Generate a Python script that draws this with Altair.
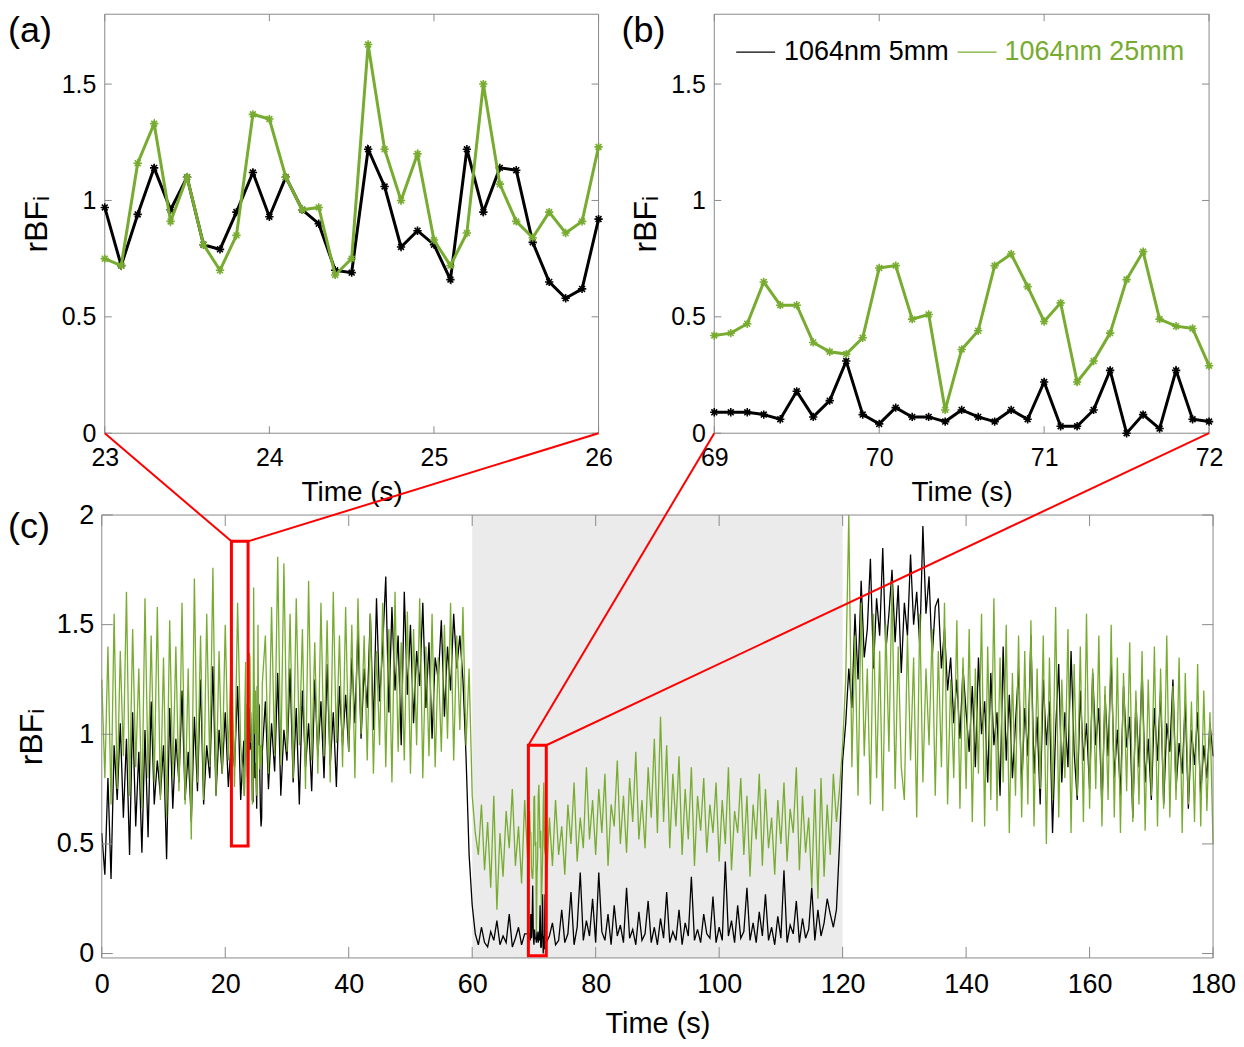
import altair as alt
import pandas as pd

# ------------------------------------------------------------------ data
series_names = ["1064nm 5mm", "1064nm 25mm"]
series_colors = ["#000000", "#77ac30"]

# panel (a): 23-26 s, 0.1 s sampling
a_start, a_end = 23.0, 26.0
a_black = [0.97, 0.72, 0.94, 1.14, 0.96, 1.10, 0.81, 0.79, 0.95, 1.12, 0.93,
           1.10, 0.96, 0.90, 0.70, 0.69, 1.22, 1.06, 0.80, 0.87, 0.81,
           0.66, 1.22, 0.95, 1.14, 1.13, 0.82, 0.65, 0.58, 0.62, 0.92]
a_green = [0.75, 0.72, 1.16, 1.33, 0.91, 1.10, 0.81, 0.70, 0.85, 1.37, 1.35,
           1.10, 0.96, 0.97, 0.68, 0.75, 1.67, 1.22, 1.00, 1.20, 0.83,
           0.72, 0.86, 1.50, 1.07, 0.91, 0.84, 0.95, 0.86, 0.91, 1.23]

# panel (b): 69-72 s, 0.1 s sampling
b_start, b_end = 69.0, 72.0
b_black = [0.09, 0.09, 0.09, 0.08, 0.06, 0.18, 0.07, 0.14, 0.31, 0.08, 0.04,
           0.11, 0.07, 0.07, 0.05, 0.10, 0.07, 0.05, 0.10, 0.06, 0.22,
           0.03, 0.03, 0.10, 0.27, 0.00, 0.08, 0.02, 0.27, 0.06, 0.05]
b_green = [0.42, 0.43, 0.47, 0.65, 0.55, 0.55, 0.39, 0.35, 0.34, 0.41, 0.71,
           0.72, 0.49, 0.51, 0.10, 0.36, 0.44, 0.72, 0.77, 0.63, 0.48,
           0.56, 0.22, 0.31, 0.43, 0.66, 0.78, 0.49, 0.46, 0.45, 0.29]

# panel (c): 0-180 s, read every 0.5 s
c_step = 0.5
c_black = [
    0.55, 0.36, 0.80, 0.34, 0.95, 0.70, 1.05, 0.62, 0.98, 0.45, 1.10, 0.58, 0.92, 0.46, 1.02, 0.53, 1.15, 0.68, 0.88, 0.72,
    0.95, 0.43, 1.12, 0.66, 0.98, 0.78, 1.20, 0.70, 0.92, 0.60, 1.08, 0.74, 1.25, 0.68, 0.95, 0.80, 1.31, 0.72, 1.02, 0.82,
    1.10, 0.76, 0.98, 0.85, 1.22, 0.70, 0.97, 1.10, 0.94, 0.69, 0.81, 1.13, 0.92, 1.15, 0.75, 1.05, 0.83, 1.28, 0.72, 1.02,
    0.88, 1.30, 0.78, 1.12, 0.68, 1.20, 0.85, 1.05, 0.74, 1.25, 0.90, 1.15, 0.80, 1.32, 0.86, 1.10, 0.76, 1.22, 0.95, 1.18,
    0.92, 1.35, 1.05, 1.48, 0.98, 1.30, 1.12, 1.55, 1.02, 1.62, 1.15, 1.40, 1.72, 1.10, 1.58, 1.20, 1.45, 0.95, 1.65, 1.18,
    1.50, 1.05, 1.38, 1.22, 1.60, 1.12, 1.42, 0.98, 1.35, 1.25, 1.52, 1.08, 1.40, 1.20, 1.55, 1.30, 1.45, 1.25, 0.90, 0.45,
    0.22, 0.09, 0.04, 0.12, 0.05, 0.03, 0.10, 0.06, 0.15, 0.04, 0.08, 0.05, 0.18, 0.03, 0.07, 0.12, 0.04, 0.09, 0.22, 0.06,
    0.04, 0.10, 0.22, 0.00, 0.05, 0.08, 0.14, 0.04, 0.06, 0.20, 0.05, 0.09, 0.28, 0.04, 0.12, 0.37, 0.06, 0.15, 0.08, 0.25,
    0.05, 0.37, 0.10, 0.06, 0.18, 0.04, 0.22, 0.08, 0.13, 0.05, 0.30, 0.07, 0.11, 0.04, 0.19, 0.06, 0.09, 0.24, 0.05, 0.12,
    0.04, 0.16, 0.07, 0.28, 0.05, 0.10, 0.06, 0.20, 0.04, 0.14, 0.08, 0.35, 0.06, 0.11, 0.05, 0.18, 0.09, 0.07, 0.26, 0.05,
    0.12, 0.06, 0.42, 0.08, 0.15, 0.05, 0.22, 0.07, 0.10, 0.30, 0.06, 0.14, 0.05, 0.19, 0.08, 0.27, 0.06, 0.12, 0.04, 0.17,
    0.07, 0.38, 0.05, 0.13, 0.09, 0.24, 0.05, 0.16, 0.07, 0.11, 0.30, 0.06, 0.20, 0.08, 0.14, 0.25, 0.18, 0.12, 0.20, 0.50,
    0.88, 1.05, 1.30, 1.12, 1.55, 1.25, 1.70, 1.35, 1.48, 1.80, 1.30, 1.62, 1.45, 1.85, 1.38, 1.55, 1.75, 1.42, 1.68, 1.28,
    1.60, 1.45, 1.82, 1.50, 1.65, 1.40, 1.95, 1.55, 1.72, 1.35, 1.58, 1.62, 1.30, 1.48, 1.20, 1.35, 1.05, 1.25, 0.98, 1.30,
    1.10, 0.92, 1.22, 0.85, 1.35, 1.00, 1.15, 0.78, 1.28, 0.95, 1.10, 0.72, 1.40, 0.88, 1.18, 0.80, 1.05, 1.30, 0.75, 1.12,
    0.90, 1.45, 0.82, 1.08, 0.68, 1.25, 0.95, 1.15, 0.55, 1.02, 1.32, 0.78, 1.10, 0.85, 1.38, 0.92, 0.70, 1.20, 0.88, 1.05,
    0.75, 1.28, 0.95, 1.12, 0.66, 1.18, 0.90, 1.35, 0.80, 1.02, 0.72, 1.22, 0.94, 1.08, 0.62, 1.15, 0.85, 1.30, 0.78, 0.98,
    0.70, 1.12, 0.88, 1.20, 0.68, 1.05, 0.92, 1.25, 0.75, 0.96, 0.82, 1.15, 0.66, 1.02, 0.86, 1.10, 0.72, 0.95, 0.80, 1.05,
    0.90]
c_green = [
    1.25, 0.80, 1.40, 0.68, 1.55, 0.75, 1.38, 0.90, 1.65, 0.72, 1.48, 0.85, 1.30, 0.66, 1.62, 0.80, 1.45, 0.78, 1.58, 0.70,
    1.35, 0.62, 1.52, 0.80, 1.40, 0.74, 1.60, 0.68, 1.30, 0.52, 1.71, 0.78, 1.45, 0.70, 1.55, 0.85, 1.76, 0.72, 1.38, 0.82,
    1.50, 0.88, 1.42, 0.76, 1.60, 0.95, 0.75, 1.10, 1.34, 0.75, 0.83, 0.93, 1.23, 1.45, 0.82, 1.58, 0.90, 1.81, 0.86, 1.78,
    0.92, 1.55, 0.80, 1.62, 0.95, 1.48, 0.75, 1.70, 0.88, 1.42, 0.82, 1.60, 0.90, 1.52, 0.78, 1.65, 0.96, 1.45, 0.85, 1.58,
    0.92, 1.50, 0.80, 1.62, 1.00, 1.45, 0.88, 1.55, 0.82, 1.38, 0.95, 1.60, 0.85, 1.48, 0.78, 1.65, 0.92, 1.42, 0.88, 1.56,
    0.82, 1.48, 0.95, 1.62, 0.80, 1.40, 0.90, 1.55, 0.85, 1.35, 0.92, 1.50, 0.98, 1.60, 0.88, 1.45, 1.02, 1.58, 0.95, 1.30,
    0.72, 0.55, 0.45, 0.68, 0.38, 0.60, 0.30, 0.72, 0.20, 0.55, 0.35, 0.65, 0.48, 0.75, 0.40, 0.58, 0.32, 0.70, 0.45, 0.62,
    0.72, 0.36, 0.48, 0.66, 0.29, 0.62, 0.40, 0.70, 0.45, 0.58, 0.36, 0.68, 0.50, 0.78, 0.42, 0.62, 0.48, 0.85, 0.52, 0.70,
    0.45, 0.75, 0.55, 0.82, 0.40, 0.68, 0.58, 0.88, 0.50, 0.72, 0.46, 0.80, 0.60, 0.92, 0.52, 0.70, 0.48, 0.85, 0.62, 0.98,
    0.55, 1.08, 0.60, 0.95, 0.48, 0.82, 0.58, 0.90, 0.45, 0.75, 0.52, 0.85, 0.40, 0.72, 0.56, 0.80, 0.46, 0.68, 0.55, 0.78,
    0.42, 0.70, 0.50, 0.85, 0.38, 0.65, 0.55, 0.80, 0.45, 0.72, 0.35, 0.68, 0.52, 0.82, 0.40, 0.75, 0.48, 0.62, 0.36, 0.70,
    0.50, 0.78, 0.42, 0.66, 0.55, 0.85, 0.38, 0.72, 0.46, 0.62, 0.30, 0.75, 0.25, 0.80, 0.35, 0.68, 0.45, 0.82, 0.60, 0.75,
    0.95, 1.25, 2.00, 0.85, 1.45, 0.72, 1.60, 0.90, 1.30, 0.68, 1.55, 0.80, 1.38, 0.65, 1.50, 0.92, 1.70, 0.75, 1.40, 0.85,
    0.70, 1.45, 0.88, 1.35, 0.62, 1.55, 0.78, 1.30, 0.95, 1.48, 0.72, 1.38, 0.85, 1.60, 0.68, 1.25, 0.80, 1.52, 0.66, 1.35,
    0.75, 1.48, 0.60, 1.30, 0.82, 1.55, 0.58, 1.40, 0.70, 1.62, 0.65, 1.35, 0.78, 1.50, 0.55, 1.28, 0.72, 1.45, 0.62, 1.38,
    0.68, 1.52, 0.58, 1.30, 0.75, 1.45, 0.50, 1.35, 0.70, 1.58, 0.62, 1.25, 0.80, 1.48, 0.55, 1.32, 0.72, 1.40, 0.60, 1.55,
    0.66, 1.30, 0.75, 1.45, 0.58, 1.22, 0.70, 1.50, 0.62, 1.35, 0.55, 1.28, 0.74, 1.42, 0.60, 1.20, 0.68, 1.38, 0.56, 1.25,
    0.72, 1.40, 0.58, 1.30, 0.66, 1.45, 0.62, 1.22, 0.70, 1.35, 0.55, 1.28, 0.68, 1.15, 0.60, 1.32, 0.58, 1.20, 0.65, 1.10,
    0.50]

shade_window = [60, 120]          # grey interval in (c)
box_t0 = [21.0, 69.1]             # red zoom boxes in (c)
box_t1 = [23.7, 72.0]
box_lo = [0.49, -0.01]
box_hi = [1.88, 0.95]

a_xticks = [23, 24, 25, 26]
b_xticks = [69, 70, 71, 72]
top_yticks = [0, 0.5, 1, 1.5]
c_xticks = [0, 20, 40, 60, 80, 100, 120, 140, 160, 180]
c_yticks = [0, 0.5, 1, 1.5, 2]
panel_labels = ["(a)", "(b)", "(c)"]

# ------------------------------------------------------------------ style / layout
FONT = "Liberation Sans"
GRAY = "#8a8a8a"
RED = "#ff0000"
SHADE = "#ebebeb"
A_X0, A_X1 = 3, 498          # pixel ranges of (a) and (b) inside the top row
B_X0, B_X1 = 614, 1110
W_TOP, H_TOP = B_X1, 420
ROW_GAP = 82
W_C, H_C = 1114, 444
AST = "M-1,0L1,0M0,-1L0,1M-0.7,-0.7L0.7,0.7M-0.7,0.7L0.7,-0.7"
ONE = pd.DataFrame({"k": [0]})


def detail_times(start, n):
    return [round(start + 0.1 * i, 1) for i in range(n)]


def frame_layer(x0, x1, H):
    return alt.Chart(ONE).mark_rect(fillOpacity=0, stroke=GRAY, strokeWidth=1).encode(
        x=alt.value(x0), x2=alt.value(x1), y=alt.value(0), y2=alt.value(H))


def tick_layers(x_enc, y_enc, xt, yt, x0, x1, H, L):
    dx = pd.DataFrame({"t": xt})
    dy = pd.DataFrame({"v": yt})
    rule = dict(color=GRAY, strokeWidth=1)
    return [
        alt.Chart(dx).mark_rule(**rule).encode(x=x_enc, y=alt.value(H), y2=alt.value(H - L)),
        alt.Chart(dx).mark_rule(**rule).encode(x=x_enc, y=alt.value(0), y2=alt.value(L)),
        alt.Chart(dy).mark_rule(**rule).encode(y=y_enc, x=alt.value(x0), x2=alt.value(x0 + L)),
        alt.Chart(dy).mark_rule(**rule).encode(y=y_enc, x=alt.value(x1 - L), x2=alt.value(x1)),
    ]


def label_layer(text, dx, dy):
    return alt.Chart(pd.DataFrame({"lab": [text]})).mark_text(
        align="left", baseline="top", fontSize=36, font=FONT, color="black"
    ).encode(text="lab:N", x=alt.value(dx), y=alt.value(dy))


def top_sub(start, black, green, xdom, xticks, x0, x1, label, label_x, extra):
    times = detail_times(start, len(black))
    x_enc = alt.X("t:Q", scale=alt.Scale(domain=xdom, range=[x0, x1], nice=False, zero=False),
                  axis=alt.Axis(orient="bottom", values=xticks, title="Time (s)",
                                labelFontSize=25, titleFontSize=28, labelPadding=12,
                                titlePadding=8, labelFlush=False))
    y_enc = alt.Y("v:Q", scale=alt.Scale(domain=[0, 1.8], nice=False),
                  axis=alt.Axis(orient="left", offset=-x0, values=top_yticks, format="~g",
                                title="rBFᵢ", labelFontSize=25, titleFontSize=32,
                                labelPadding=9, titlePadding=8, labelFlush=False))
    layers = [frame_layer(x0, x1, H_TOP)]
    for vals, col in ((black, series_colors[0]), (green, series_colors[1])):
        df = pd.DataFrame({"t": times, "v": vals})
        base = alt.Chart(df).encode(x=x_enc, y=y_enc)
        layers.append(base.mark_line(color=col, strokeWidth=3))
        layers.append(base.mark_point(shape=AST, size=70, color=col, filled=False,
                                      strokeWidth=1.6, opacity=1))
    layers += tick_layers(x_enc, y_enc, xticks, top_yticks, x0, x1, H_TOP, 7)
    layers.append(label_layer(label, label_x, 0))
    layers += extra
    return alt.layer(*layers)


# legend drawn inside panel (b)
legend_layers = []
leg_line_x = [(22, 61), (244, 283)]
leg_text_x = [70, 291]
for i in range(2):
    one = pd.DataFrame({"name": [series_names[i]]})
    legend_layers.append(alt.Chart(one).mark_rule(color=series_colors[i], strokeWidth=1.2).encode(
        x=alt.value(B_X0 + leg_line_x[i][0]), x2=alt.value(B_X0 + leg_line_x[i][1]),
        y=alt.value(38)))
    legend_layers.append(alt.Chart(one).mark_text(
        align="left", baseline="middle", fontSize=27, font=FONT, color=series_colors[i]
    ).encode(text="name:N", x=alt.value(B_X0 + leg_text_x[i]), y=alt.value(38)))

sub_a = top_sub(a_start, a_black, a_green, [a_start, a_end], a_xticks, A_X0, A_X1,
                panel_labels[0], -94, [])
sub_b = top_sub(b_start, b_black, b_green, [b_start, b_end], b_xticks, B_X0, B_X1,
                panel_labels[1], B_X0 - 93, legend_layers)
top_row = alt.layer(sub_a, sub_b).resolve_scale(x="independent", y="independent").properties(
    width=W_TOP, height=H_TOP)


# ------------------------------------------------------------------ panel (c)
def c_series(coarse, a_vals, b_vals):
    rows = []
    for i, v in enumerate(coarse):
        t = i * c_step
        if a_start <= t <= a_end or b_start <= t <= b_end:
            continue
        rows.append((t, v))
    rows += list(zip(detail_times(a_start, len(a_vals)), a_vals))
    rows += list(zip(detail_times(b_start, len(b_vals)), b_vals))
    rows.sort()
    return pd.DataFrame(rows, columns=["t", "v"])


xc = alt.X("t:Q", scale=alt.Scale(domain=[0, 180], nice=False, zero=False),
           axis=alt.Axis(values=c_xticks, title="Time (s)", labelFontSize=27,
                         titleFontSize=29, labelPadding=14, titlePadding=12,
                         labelFlush=False))
yc = alt.Y("v:Q", scale=alt.Scale(domain=[-0.02, 2], nice=False, zero=False),
           axis=alt.Axis(values=c_yticks, format="~g", title="rBFᵢ", labelFontSize=27,
                         titleFontSize=32, labelPadding=8, titlePadding=8,
                         labelFlush=False))

shade = alt.Chart(pd.DataFrame({"t": [shade_window[0]], "t2": [shade_window[1]]})).mark_rect(
    color=SHADE).encode(x=xc, x2="t2:Q", y=alt.value(0), y2=alt.value(H_C))

c_layers = [shade]
for vals, dvals_a, dvals_b, col in ((c_black, a_black, b_black, series_colors[0]),
                                    (c_green, a_green, b_green, series_colors[1])):
    c_layers.append(alt.Chart(c_series(vals, dvals_a, dvals_b)).mark_line(
        color=col, strokeWidth=1.3).encode(x=xc, y=yc))
c_layers.append(frame_layer(0, W_C, H_C))

boxes = pd.DataFrame({"t": box_t0, "t2": box_t1, "v": box_lo, "v2": box_hi})
c_layers.append(alt.Chart(boxes).mark_rect(fillOpacity=0, stroke=RED, strokeWidth=3).encode(
    x=xc, x2="t2:Q", y=yc, y2="v2:Q"))

# connectors from the zoom boxes to the bottom corners of panels (a) and (b)
panel_corners = [(A_X0, A_X1), (B_X0, B_X1)]
for k in range(2):
    for t_corner, px in ((box_t0[k], panel_corners[k][0]), (box_t1[k], panel_corners[k][1])):
        c_layers.append(alt.Chart(pd.DataFrame({"t": [t_corner], "v": [box_hi[k]]})).mark_rule(
            color=RED, strokeWidth=2).encode(x=xc, y=yc, x2=alt.value(px), y2=alt.value(-ROW_GAP)))

c_layers += tick_layers(xc, yc, c_xticks, c_yticks, 0, W_C, H_C, 11)
c_layers.append(label_layer(panel_labels[2], -94, -5))
panel_c = alt.layer(*c_layers).properties(width=W_C, height=H_C)

chart = alt.vconcat(
    top_row, panel_c, spacing=ROW_GAP, bounds="flush",
    padding={"top": 4, "left": 0, "right": 0, "bottom": 0},
).configure(font=FONT).configure_view(strokeWidth=0).configure_axis(
    grid=False, domain=False, ticks=False, tickSize=0, labelColor="black",
    titleColor="black", labelFont=FONT, titleFont=FONT, titleFontWeight="normal")

chart.save("out.html", embed_options={"renderer": "svg", "actions": False})
